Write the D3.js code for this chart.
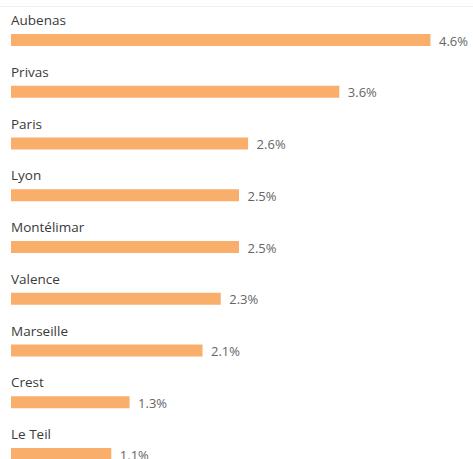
<!DOCTYPE html>
<html><head><meta charset="utf-8">
<script src="https://cdn.jsdelivr.net/npm/d3@7"></script>
<style>html,body{margin:0;padding:0;background:#fff;overflow:hidden}</style>
</head><body><svg id="c" width="473" height="459"></svg>
<script>
const categories = ["Aubenas","Privas","Paris","Lyon","Montélimar","Valence","Marseille","Crest","Le Teil"];
const values = [4.6, 3.6, 2.6, 2.5, 2.5, 2.3, 2.1, 1.3, 1.1];
const valueLabels = ["4.6%","3.6%","2.6%","2.5%","2.5%","2.3%","2.1%","1.3%","1.1%"];

const svg = d3.select("#c");
const font = "'Open Sans', 'Noto Sans', sans-serif";
svg.append("line").attr("x1",0).attr("x2",473).attr("y1",6.5).attr("y2",6.5)
  .attr("stroke","#f2f2f2").attr("stroke-width",1);

const step = 51.75;
const y = d3.scaleBand().domain(categories).range([0, step*categories.length]).padding(0);
const x = d3.scaleLinear().domain([0, 4.6]).range([11, 430.5]);

const g = svg.selectAll("g.row").data(categories).join("g").attr("class","row")
  .attr("transform", d => `translate(0,${y(d)})`);

g.append("text").attr("x", 11).attr("y", 25).text(d => d)
  .attr("font-family", font).attr("font-size", 13.5).attr("fill", "#3a3a3a");

g.append("rect").attr("x", x(0)).attr("y", 34).attr("height", 12)
  .attr("width", (d,i) => x(values[i]) - x(0)).attr("fill", "#f9ae6c");

g.append("text").attr("x", (d,i) => x(values[i]) + 8.5).attr("y", 45.5)
  .text((d,i) => valueLabels[i])
  .attr("font-family", font).attr("font-size", 13).attr("fill", "#666");
</script></body></html>
